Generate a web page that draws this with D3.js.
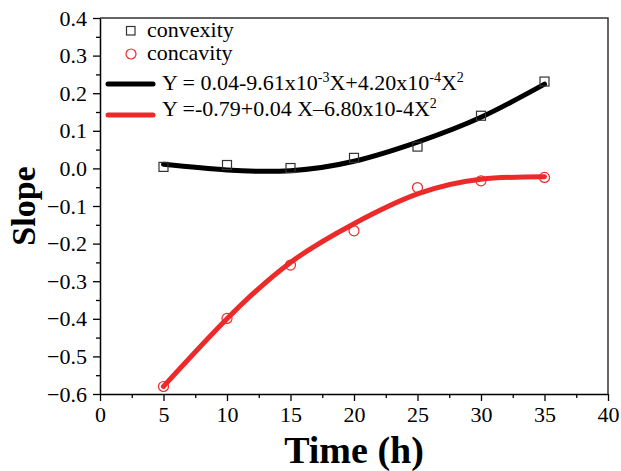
<!DOCTYPE html>
<html>
<head>
<meta charset="utf-8">
<script src="https://cdn.jsdelivr.net/npm/d3@7"></script>
<style>
  body { margin: 0; background: #fff; }
  svg text { font-family: "Liberation Serif", "Times New Roman", "DejaVu Serif", serif !important; fill: #000; }
</style>
</head>
<body>
<svg id="chart" width="621" height="471"></svg>
<script>
// measured points
var times = [5, 10, 15, 20, 25, 30, 35];
var convexity = [0.004, 0.009, 0.001, 0.028, 0.058, 0.140, 0.231];
var concavity = [-0.580, -0.399, -0.257, -0.166, -0.051, -0.033, -0.024];
// fitted curves
var fitTimes = [5, 10, 15, 20, 25, 30, 35];
var convexFit = [0.011, -0.004, -0.006, 0.019, 0.070, 0.136, 0.224];
var concaveFit = [-0.580, -0.400, -0.250, -0.147, -0.068, -0.029, -0.022];
var xTicks = [0, 5, 10, 15, 20, 25, 30, 35, 40];
var yTicks = [-0.6, -0.5, -0.4, -0.3, -0.2, -0.1, 0.0, 0.1, 0.2, 0.3, 0.4];

var red = "#ec2a2a";
var margin = {top: 18, right: 13, bottom: 77, left: 100};
var svg = d3.select("#chart");
var width = 621 - margin.left - margin.right,
    height = 471 - margin.top - margin.bottom;
var g = svg.append("g").attr("transform", `translate(${margin.left},${margin.top})`);

var x = d3.scaleLinear().domain([0, 40]).range([0, width]);
var y = d3.scaleLinear().domain([-0.6, 0.4]).range([height, 0]);

// frame (top + right)
g.append("path").attr("d", `M0,0H${width}V${height}`)
  .attr("fill", "none").attr("stroke", "#333").attr("stroke-width", 1.5);

// minor ticks
var xMinor = d3.range(2.5, 40, 5), yMinor = d3.range(-0.55, 0.4, 0.1);
g.append("g").attr("transform", `translate(0,${height})`)
  .call(d3.axisBottom(x).tickValues(xMinor).tickSize(4).tickFormat(""))
  .call(function(a){ a.select(".domain").remove(); a.selectAll("line").attr("stroke-width", 1.3); });
g.append("g")
  .call(d3.axisLeft(y).tickValues(yMinor).tickSize(4).tickFormat(""))
  .call(function(a){ a.select(".domain").remove(); a.selectAll("line").attr("stroke-width", 1.3); });

var xAxis = g.append("g").attr("transform", `translate(0,${height})`)
  .call(d3.axisBottom(x).tickValues(xTicks).tickSize(7).tickPadding(5).tickSizeOuter(0).tickFormat(d3.format("d")));
var yAxis = g.append("g")
  .call(d3.axisLeft(y).tickValues(yTicks).tickSize(7).tickPadding(6).tickSizeOuter(0).tickFormat(d3.format(".1f")));
[xAxis, yAxis].forEach(function(a){
  a.attr("font-family", null).attr("font-size", null);
  a.select(".domain").attr("stroke-width", 1.5);
  a.selectAll("line").attr("stroke-width", 1.3);
  a.selectAll("text").style("font-size", "22px");
});

// fitted curves
var line = d3.line().x(function(d){ return x(d[0]); }).y(function(d){ return y(d[1]); }).curve(d3.curveNatural);
g.append("path").datum(d3.zip(fitTimes, convexFit)).attr("d", line)
  .attr("fill", "none").attr("stroke", "#000").attr("stroke-width", 5).attr("stroke-linecap", "round");
g.append("path").datum(d3.zip(fitTimes, concaveFit)).attr("d", line)
  .attr("fill", "none").attr("stroke", red).attr("stroke-width", 5).attr("stroke-linecap", "round");

// markers
g.selectAll(".sq").data(d3.zip(times, convexity)).enter().append("rect").attr("class", "sq")
  .attr("x", function(d){ return x(d[0]) - 4.5; }).attr("y", function(d){ return y(d[1]) - 4.5; })
  .attr("width", 9).attr("height", 9).attr("fill", "none").attr("stroke", "#333").attr("stroke-width", 1.2);
g.selectAll(".ci").data(d3.zip(times, concavity)).enter().append("circle").attr("class", "ci")
  .attr("cx", function(d){ return x(d[0]); }).attr("cy", function(d){ return y(d[1]); })
  .attr("r", 5).attr("fill", "none").attr("stroke", red).attr("stroke-width", 1.2);

// legend
var lg = svg.append("g");
lg.append("rect").attr("x", 126.5).attr("y", 26.5).attr("width", 8.5).attr("height", 8.5)
  .attr("fill", "none").attr("stroke", "#333").attr("stroke-width", 1.2);
lg.append("text").attr("x", 147).attr("y", 37).style("font-size", "22px").text("convexity");
lg.append("circle").attr("cx", 131).attr("cy", 54).attr("r", 5)
  .attr("fill", "none").attr("stroke", red).attr("stroke-width", 1.2);
lg.append("text").attr("x", 147).attr("y", 60).style("font-size", "22px").text("concavity");
lg.append("line").attr("x1", 108).attr("x2", 153).attr("y1", 84).attr("y2", 84)
  .attr("stroke", "#000").attr("stroke-width", 5).attr("stroke-linecap", "round");
lg.append("line").attr("x1", 108).attr("x2", 153).attr("y1", 115).attr("y2", 115)
  .attr("stroke", red).attr("stroke-width", 5).attr("stroke-linecap", "round");

function eq(ypos, parts) {
  var t = lg.append("text").attr("x", 162).attr("y", ypos).style("font-size", "22px");
  parts.forEach(function(p){
    var s = t.append("tspan").text(p[0]);
    if (p[1]) s.style("font-size", "14px").attr("dy", -8);
    else if (p[2]) s.attr("dy", 8);
  });
}
eq(90, [["Y = 0.04-9.61x10"], ["-3", true], ["X+4.20x10", false, true], ["-4", true], ["X", false, true], ["2", true]]);
eq(116, [["Y =-0.79+0.04 X\u20136.80x10-4X"], ["2", true]]);

// axis titles
svg.append("text").attr("x", margin.left + width / 2).attr("y", 463)
  .attr("text-anchor", "middle").style("font-size", "38px").style("font-weight", "bold").text("Time (h)");
svg.append("text").attr("transform", `translate(35,${margin.top + height / 2}) rotate(-90)`)
  .attr("text-anchor", "middle").style("font-size", "34px").style("font-weight", "bold").text("Slope");
</script>
</body>
</html>
